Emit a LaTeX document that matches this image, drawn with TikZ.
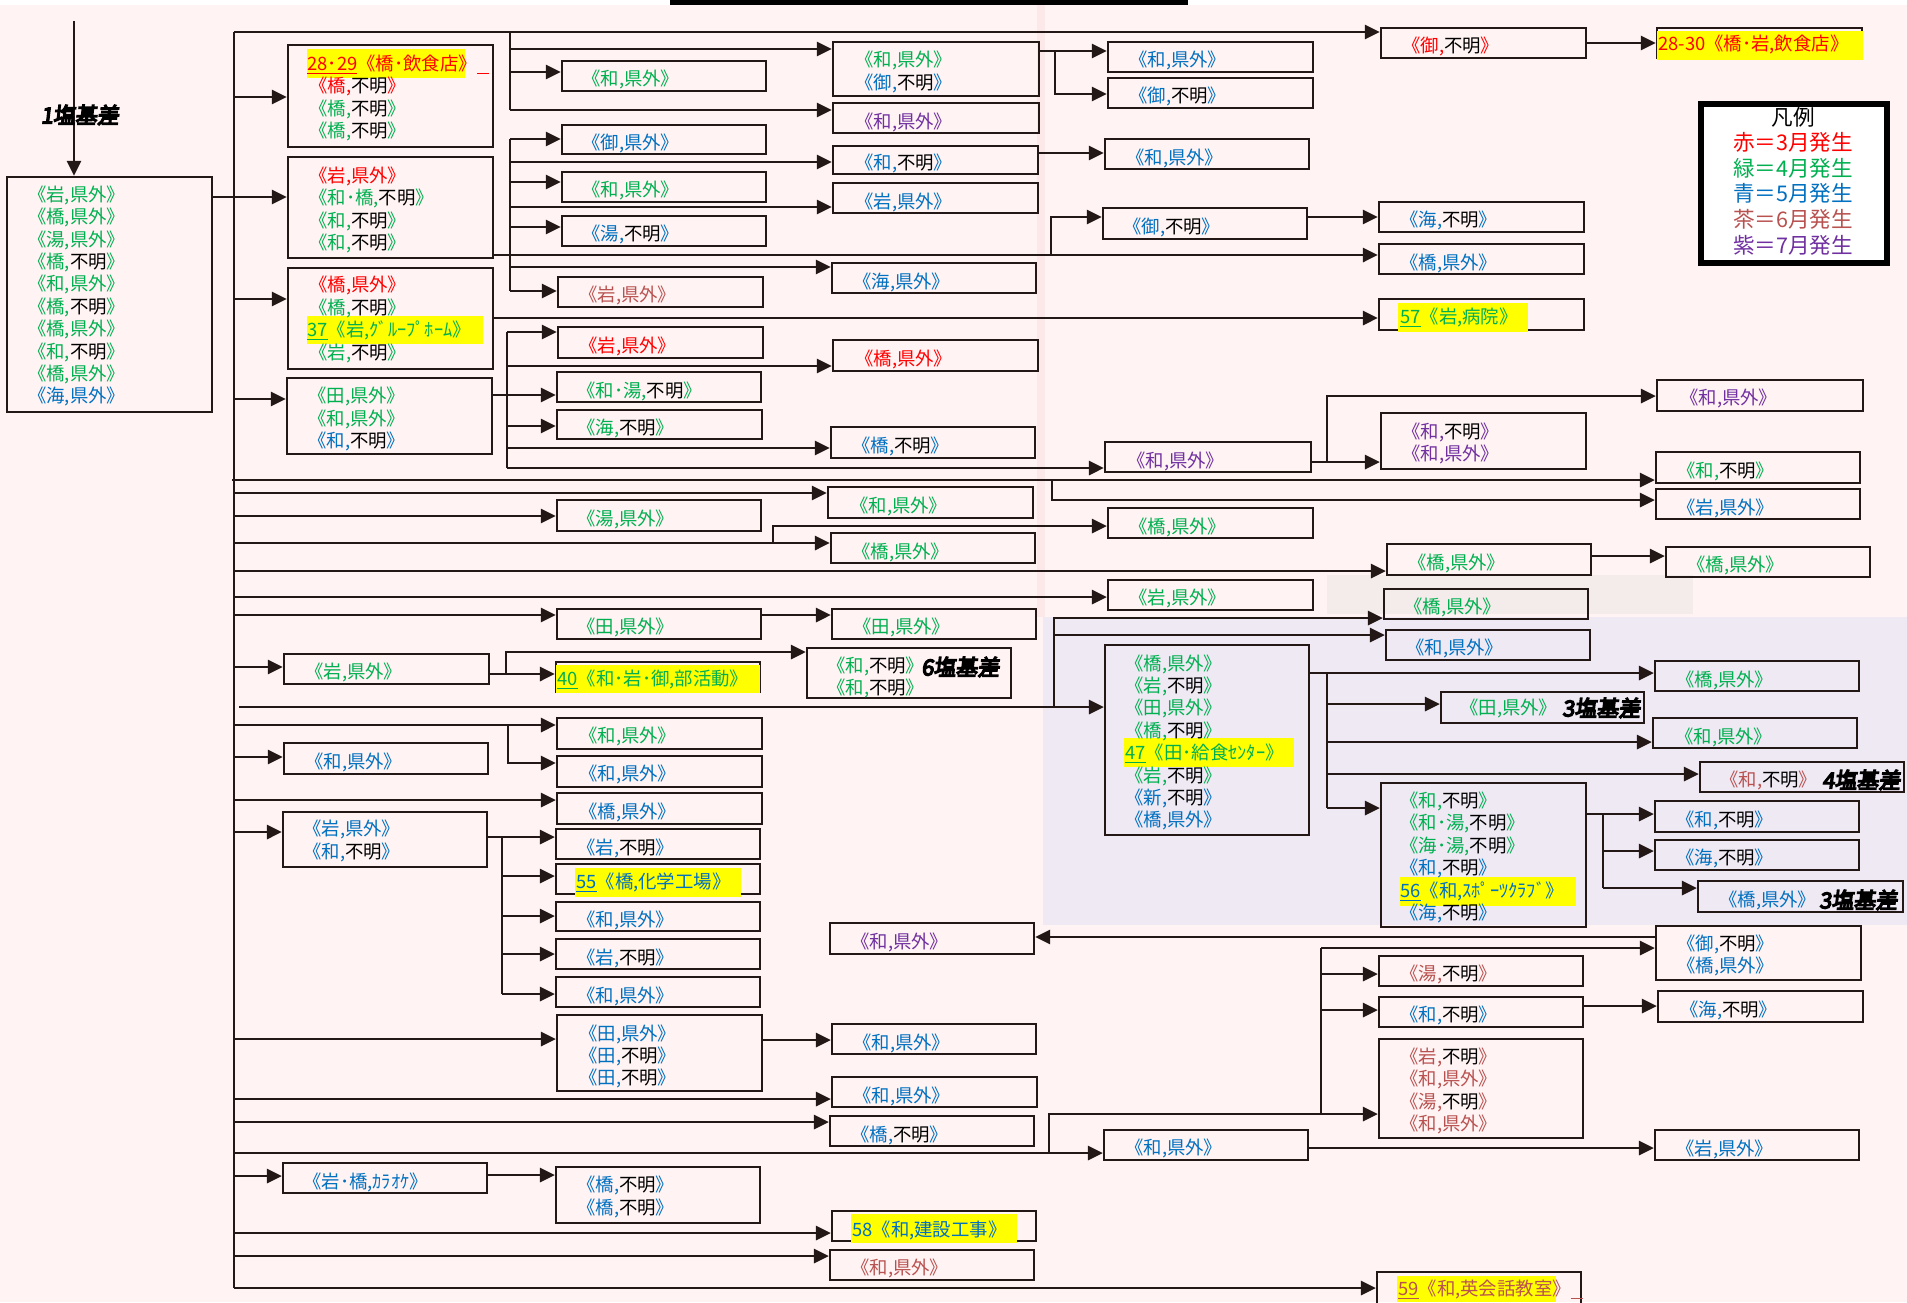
\documentclass[tikz,border=0pt]{standalone}
\usepackage{fontspec}
\setmainfont{Noto Sans CJK JP}
\newfontfamily\lblfont[FakeBold=6,FakeSlant=0.12]{Noto Sans CJK JP}
\usetikzlibrary{arrows.meta,fit}
\pgfdeclarelayer{hlayer}
\pgfdeclarelayer{fg}
\pgfsetlayers{main,hlayer,fg}
\definecolor{grn}{RGB}{0,176,80}
\definecolor{blu}{RGB}{0,112,192}
\definecolor{brn}{RGB}{184,82,80}
\definecolor{pur}{RGB}{112,48,160}
\definecolor{myred}{RGB}{255,0,0}
\definecolor{lc}{RGB}{35,24,21}
\definecolor{bgp}{RGB}{255,243,243}
\definecolor{lav}{RGB}{239,233,244}
\definecolor{gpatch}{RGB}{243,236,234}
\definecolor{strip}{RGB}{252,232,232}
\definecolor{hly}{RGB}{255,255,0}
\newcommand\KX[2]{\textcolor{#1}{《#2,県外》}}
\newcommand\FX[2]{\textcolor{#1}{《#2,}不明\textcolor{#1}{》}}
\newcommand\bx[8]{%
  \node[bx, fit={(#2,#3) (#4,#5)}] (#1) {};
  \begin{pgfonlayer}{fg}\node[txt] (#1t) at (#6,#7) {#8};\end{pgfonlayer}}
\newcommand\hlbox[4]{\begin{pgfonlayer}{hlayer}\fill[hly] (#1,#2) rectangle (#3,#4);\end{pgfonlayer}}
\newcommand\tarr[3]{\draw[ar] (#1,#2) -- (#1,#2 -| #3.west);}
\newcommand\barr[3]{\draw[ar] (#1.east |- 0,#2) -- (0,#2 -| #3.west);}
\begin{document}
\begin{tikzpicture}[x=0.5pt,y=-0.5pt,
  bx/.style={draw=lc, line width=1.1pt, inner sep=0pt},
  txt/.style={anchor=west, inner sep=0pt, align=left, xshift=-4.1pt, font=\fontsize{9.2pt}{11.2pt}\selectfont},
  ln/.style={draw=lc, line width=1.4pt},
  ar/.style={ln, -{Triangle[length=7.5pt,width=7pt]}},
  lab/.style={inner sep=0pt, font=\lblfont\fontsize{11pt}{12pt}\selectfont}]
\useasboundingbox (0,0) rectangle (1907,1302);
% background
\fill[bgp] (0,0) rectangle (1907,1302);
\fill[white] (0,0) rectangle (1907,5);
\fill[strip] (1037,5) rectangle (1045,617);
\fill[lav] (1043,617) rectangle (1907,925);
\fill[gpatch] (1327,575) rectangle (1693,614);
\fill[black] (670,0) rectangle (1188,5);

% highlights
\hlbox{307}{49}{465}{78}
\hlbox{307}{316}{483}{344}
\hlbox{556}{665}{760}{693}
\hlbox{575}{868}{741}{897}
\hlbox{851}{1214}{1017}{1243}
\hlbox{1398}{303}{1528}{332}
\hlbox{1124}{738}{1294}{767}
\hlbox{1400}{877}{1576}{906}
\hlbox{1397}{1276}{1556}{1302}
\hlbox{1657}{31}{1863}{60}

% boxes
\bx{A}{7}{177}{212}{412}{36}{296}{\KX{grn}{岩}\\\KX{grn}{橋}\\\KX{grn}{湯}\\\FX{grn}{橋}\\\KX{grn}{和}\\\FX{grn}{橋}\\\KX{grn}{橋}\\\FX{grn}{和}\\\KX{grn}{橋}\\\KX{blu}{海}}
\bx{B1}{288}{45}{493}{147}{317}{98}{\hspace*{-0.9pt}\textcolor{myred}{\underline{28･29}《橋･飲食店》\underline{\hspace{6pt}}}\\\FX{myred}{橋}\\\FX{grn}{橋}\\\FX{grn}{橋}}
\bx{B2}{288}{157}{493}{258}{317}{210}{\KX{myred}{岩}\\\FX{grn}{和･橋}\\\FX{grn}{和}\\\FX{grn}{和}}
\bx{B3}{288}{268}{493}{369}{317}{319.5}{\KX{myred}{橋}\\\FX{grn}{橋}\\\hspace*{-0.9pt}\textcolor{grn}{\underline{37}《岩,ｸﾞﾙｰﾌﾟﾎｰﾑ》}\\\FX{grn}{岩}}
\bx{B4}{287}{378}{492}{454}{316}{419}{\KX{grn}{田}\\\KX{grn}{和}\\\FX{blu}{和}}
\bx{c1}{562}{61}{766}{91}{590}{79}{\KX{grn}{和}}
\bx{c2}{562}{125}{766}{154}{590}{143}{\KX{blu}{御}}
\bx{c3}{562}{172}{766}{202}{590}{190}{\KX{grn}{和}}
\bx{c4}{562}{216}{766}{246}{590}{234}{\FX{blu}{湯}}
\bx{c5}{558}{277}{763}{307}{587}{295}{\KX{brn}{岩}}
\bx{c6}{558}{327}{763}{358}{587}{346}{\KX{myred}{岩}}
\bx{c7}{557}{372}{761}{402}{585}{391}{\FX{grn}{和･湯}}
\bx{c8}{557}{410}{762}{439}{585}{428}{\FX{grn}{海}}
\bx{c9}{557}{500}{761}{531}{585}{519}{\KX{grn}{湯}}
\bx{c10}{557}{609}{761}{639}{585}{627}{\KX{grn}{田}}
\bx{c11}{556}{662}{760}{692}{565}{680}{\textcolor{grn}{\underline{40}《和･岩･御,部活動》}}
\bx{c12}{557}{718}{762}{749}{587}{736}{\KX{grn}{和}}
\bx{c13}{557}{756}{762}{787}{587}{774}{\KX{blu}{和}}
\bx{c14}{557}{793}{762}{824}{587}{812}{\KX{blu}{橋}}
\bx{c15}{556}{829}{760}{859}{585}{848}{\FX{blu}{岩}}
\bx{c16}{556}{864}{760}{894}{584}{883}{\textcolor{blu}{\underline{55}《橋,化学工場》}}
\bx{c17}{556}{902}{760}{931}{585}{920}{\KX{blu}{和}}
\bx{c18}{556}{939}{760}{969}{585}{958}{\FX{blu}{岩}}
\bx{c19}{556}{977}{760}{1007}{585}{996}{\KX{blu}{和}}
\bx{c20}{557}{1015}{762}{1091}{587}{1056.5}{\KX{blu}{田}\\\FX{blu}{田}\\\FX{blu}{田}}
\bx{c21}{556}{1167}{760}{1223}{585}{1197}{\FX{blu}{橋}\\\FX{blu}{橋}}
\bx{d1}{284}{654}{489}{684}{313}{672}{\KX{grn}{岩}}
\bx{d2}{284}{743}{488}{774}{313}{762}{\KX{blu}{和}}
\bx{d3}{283}{812}{487}{867}{311}{841}{\KX{blu}{岩}\\\FX{blu}{和}}
\bx{d4}{283}{1163}{487}{1193}{311}{1182}{\textcolor{blu}{《岩･橋,ｶﾗｵｹ》}}
\bx{e1}{833}{42}{1039}{96}{863}{72}{\KX{grn}{和}\\\FX{blu}{御}}
\bx{e2}{833}{103}{1039}{133}{863}{122}{\KX{pur}{和}}
\bx{e3}{833}{146}{1038}{174}{863}{163}{\FX{blu}{和}}
\bx{e4}{833}{183}{1038}{213}{863}{202}{\KX{blu}{岩}}
\bx{e5}{832}{263}{1036}{293}{861}{282}{\KX{blu}{海}}
\bx{e6}{833}{340}{1038}{371}{863}{359}{\KX{myred}{橋}}
\bx{e7}{831}{427}{1035}{458}{860}{446}{\FX{blu}{橋}}
\bx{e8}{828}{487}{1033}{518}{858}{506}{\KX{grn}{和}}
\bx{e9}{831}{533}{1035}{563}{860}{552}{\KX{grn}{橋}}
\bx{e10}{832}{609}{1036}{639}{861}{627}{\KX{grn}{田}}
\bx{e11}{807}{648}{1011}{698}{835}{677.5}{\FX{grn}{和}\\\FX{grn}{和}}
\bx{e12}{830}{923}{1034}{954}{859}{942}{\KX{pur}{和}}
\bx{e13}{832}{1024}{1036}{1054}{861}{1043}{\KX{blu}{和}}
\bx{e14}{832}{1077}{1037}{1107}{861}{1096}{\KX{blu}{和}}
\bx{e15}{830}{1116}{1034}{1146}{859}{1135}{\FX{blu}{橋}}
\bx{e16}{832}{1211}{1036}{1241}{860}{1230}{\textcolor{blu}{58《和,建設工事》}}
\bx{e17}{830}{1250}{1034}{1280}{859}{1268}{\KX{brn}{和}}
\bx{f1}{1108}{42}{1313}{72}{1137}{60}{\KX{blu}{和}}
\bx{f2}{1108}{78}{1313}{108}{1137}{96}{\FX{blu}{御}}
\bx{f3}{1105}{139}{1309}{169}{1134}{158}{\KX{blu}{和}}
\bx{f4}{1103}{208}{1307}{239}{1131}{227}{\FX{blu}{御}}
\bx{f5}{1105}{442}{1311}{472}{1135}{461}{\KX{pur}{和}}
\bx{f6}{1108}{508}{1313}{538}{1137}{527}{\KX{grn}{橋}}
\bx{f7}{1108}{580}{1313}{610}{1137}{598}{\KX{grn}{岩}}
\bx{f8}{1105}{645}{1309}{835}{1133}{742.5}{\KX{grn}{橋}\\\FX{grn}{岩}\\\KX{grn}{田}\\\FX{grn}{橋}\\\textcolor{grn}{\underline{47}《田･給食ｾﾝﾀｰ》}\\\FX{grn}{岩}\\\FX{blu}{新}\\\KX{blu}{橋}}
\bx{f9}{1104}{1130}{1308}{1160}{1133}{1148}{\KX{blu}{和}}
\bx{g1}{1381}{28}{1586}{58}{1410}{46}{\FX{myred}{御}}
\bx{g2}{1379}{202}{1584}{232}{1408}{220}{\FX{blu}{海}}
\bx{g3}{1379}{244}{1584}{274}{1408}{263}{\KX{blu}{橋}}
\bx{g4}{1379}{299}{1584}{330}{1408}{318}{\textcolor{grn}{\underline{57}《岩,病院》}}
\bx{g5}{1381}{413}{1586}{469}{1410}{443.5}{\FX{pur}{和}\\\KX{pur}{和}}
\bx{g6}{1387}{544}{1591}{575}{1416}{563}{\KX{grn}{橋}}
\bx{g7}{1384}{589}{1588}{619}{1412}{607}{\KX{grn}{橋}}
\bx{g8}{1386}{630}{1590}{660}{1414}{648}{\KX{blu}{和}}
\bx{g9}{1381}{783}{1586}{927}{1408}{857.5}{\FX{grn}{和}\\\FX{grn}{和･湯}\\\FX{grn}{海･湯}\\\FX{blu}{和}\\\textcolor{blu}{\underline{56}《和,ｽﾎﾟｰﾂｸﾗﾌﾞ》}\\\FX{blu}{海}}
\bx{g10}{1379}{956}{1583}{986}{1408}{974}{\FX{brn}{湯}}
\bx{g11}{1379}{997}{1583}{1027}{1408}{1015}{\FX{blu}{和}}
\bx{g12}{1379}{1039}{1583}{1138}{1408}{1091}{\FX{brn}{岩}\\\KX{brn}{和}\\\FX{brn}{湯}\\\KX{brn}{和}}
\bx{g13}{1377}{1272}{1581}{1312}{1406}{1290}{\textcolor{brn}{\underline{59}《和,英会話教室》\underline{\hspace{6pt}}}}
\bx{g14}{1441}{692}{1644}{723}{1468}{708}{\KX{grn}{田}}
\bx{h1}{1657}{28}{1862}{58}{1666}{44}{\textcolor{myred}{28-30《橋･岩,飲食店》}}
\bx{h2}{1657}{380}{1863}{411}{1688}{398}{\KX{pur}{和}}
\bx{h3}{1656}{452}{1860}{483}{1685}{471}{\FX{grn}{和}}
\bx{h4}{1656}{489}{1860}{519}{1685}{508}{\KX{blu}{岩}}
\bx{h5}{1666}{547}{1870}{577}{1695}{565}{\KX{grn}{橋}}
\bx{h6}{1655}{661}{1859}{691}{1684}{680}{\KX{grn}{橋}}
\bx{h7}{1653}{718}{1857}{748}{1683}{737}{\KX{grn}{和}}
\bx{h8}{1700}{762}{1904}{792}{1728}{780}{\FX{brn}{和}}
\bx{h9}{1655}{801}{1859}{832}{1684}{820}{\FX{blu}{和}}
\bx{h10}{1655}{840}{1859}{870}{1684}{858}{\FX{blu}{海}}
\bx{h11}{1698}{881}{1903}{912}{1727}{900}{\KX{blu}{橋}}
\bx{h12}{1656}{926}{1861}{980}{1685}{955.5}{\FX{blu}{御}\\\KX{blu}{橋}}
\bx{h13}{1658}{991}{1863}{1022}{1688}{1010}{\FX{blu}{海}}
\bx{h14}{1655}{1130}{1859}{1160}{1684}{1149}{\KX{blu}{岩}}

% legend
\node[draw=black, line width=2.6pt, fill=white, inner sep=0pt, fit={(1701,104) (1887,263)}] (leg) {};
\begin{pgfonlayer}{fg}
\node[align=center, inner sep=0pt, font=\fontsize{10.8pt}{12.8pt}\selectfont] (legt) at (1793,181)
  {凡例\\\textcolor{myred}{赤＝3月発生}\\\textcolor{grn}{緑＝4月発生}\\\textcolor{blu}{青＝5月発生}\\\textcolor{brn}{茶＝6月発生}\\\textcolor{pur}{紫＝7月発生}};
\node[lab] (l1) at (80,115) {1塩基差};
\node[lab, anchor=west] (l6) at (921,667) {6塩基差};
\node[lab, anchor=west] (l3a) at (1562,708) {3塩基差};
\node[lab, anchor=west] (l4) at (1822,780) {4塩基差};
\node[lab, anchor=west] (l3b) at (1819,900) {3塩基差};
\end{pgfonlayer}

% connectors
\draw[ar] (74,21) -- (74,21 |- A.north);
\coordinate (T0) at (234,32);
\coordinate (T1) at (234,1288);
\draw[ln] (T0) -- (T1);
\draw[ar] (T0) -- (234,32 -| g1.west);
\tarr{234}{97}{B1}
\barr{A}{197}{B2}
\tarr{234}{299}{B3}
\tarr{234}{399}{B4}
\tarr{232}{480}{h3}
\draw[ar] (1052,480) -- (1052,500) -- (0,500 -| h4.west);
\tarr{234}{493}{e8}
\tarr{234}{516}{c9}
\tarr{234}{543}{e9}
\draw[ar] (773,543) -- (773,526) -- (0,526 -| f6.west);
\tarr{234}{571}{g6}
\barr{g6}{556}{h5}
\tarr{234}{597}{f7}
\tarr{234}{615}{c10}
\barr{c10}{615}{e10}
\tarr{234}{667}{d1}
\barr{d1}{674}{c11}
\draw[ar] (506,674) -- (506,652) -- (0,652 -| e11.west);
\tarr{239}{707}{f8}
\draw[ar] (1054,707) -- (1054,618) -- (0,618 -| g7.west);
\tarr{1054}{635}{g8}
\tarr{234}{725}{c12}
\draw[ar] (508,725) -- (508,763) -- (0,763 -| c13.west);
\tarr{234}{757}{d2}
\tarr{234}{800}{c14}
\tarr{234}{832}{d3}
\barr{d3}{837}{c15}
\draw[ln] (502,837) -- (502,994);
\tarr{502}{876}{c16}
\tarr{502}{916}{c17}
\tarr{502}{954}{c18}
\tarr{502}{994}{c19}
\tarr{234}{1039}{c20}
\barr{c20}{1040}{e13}
\tarr{234}{1099}{e14}
\tarr{234}{1122}{e15}
\tarr{234}{1153}{f9}
\draw[ar] (1049,1153) -- (1049,1114) -- (0,1114 -| g12.west);
\draw[ln] (1321,948) -- (1321,1114);
\tarr{1321}{948}{h12}
\tarr{1321}{974}{g10}
\tarr{1321}{1010}{g11}
\barr{g11}{1006}{h13}
\barr{f9}{1148}{h14}
\tarr{234}{1176}{d4}
\barr{d4}{1175}{c21}
\tarr{234}{1233}{e16}
\tarr{234}{1256}{e17}
\draw[ar] (T1) -- (0,1288 -| g13.west);
% upper sub-trunks
\draw[ln] (510,32) -- (510,110);
\tarr{510}{49}{e1}
\tarr{510}{72}{c1}
\tarr{510}{110}{e2}
\barr{e1}{51}{f1}
\draw[ar] (1055,51) -- (1055,94) -- (0,94 -| f2.west);
\barr{g1}{43}{h1}
\barr{B2}{255}{g3}
\draw[ar] (1051,255) -- (1051,217) -- (0,217 -| f4.west);
\barr{f4}{217}{g2}
\draw[ln] (510,139) -- (510,291);
\tarr{510}{139}{c2}
\tarr{510}{162}{e3}
\tarr{510}{182}{c3}
\tarr{510}{207}{e4}
\tarr{510}{227}{c4}
\tarr{510}{267}{e5}
\tarr{510}{291}{c5}
\barr{e3}{153}{f3}
\barr{B3}{318}{g4}
\draw[ln] (507,332) -- (507,468);
\tarr{507}{332}{c6}
\tarr{507}{366}{e6}
\barr{B4}{395}{c7}
\tarr{507}{426}{c8}
\tarr{507}{448}{e7}
\tarr{507}{468}{f5}
\barr{f5}{462}{g5}
\draw[ar] (1327,462) -- (1327,396) -- (0,396 -| h2.west);
% 47 outputs
\barr{f8}{673}{h6}
\draw[ln] (1327,673) -- (1327,808);
\tarr{1327}{704}{g14}
\tarr{1327}{742}{h7}
\tarr{1327}{774}{h8}
\tarr{1327}{808}{g9}
\barr{g9}{814}{h9}
\draw[ln] (1603,814) -- (1603,888);
\tarr{1603}{851}{h10}
\tarr{1603}{888}{h11}
\draw[ar] (h12.west |- 0,937) -- (0,937 -| e12.east);
\end{tikzpicture}
\end{document}
